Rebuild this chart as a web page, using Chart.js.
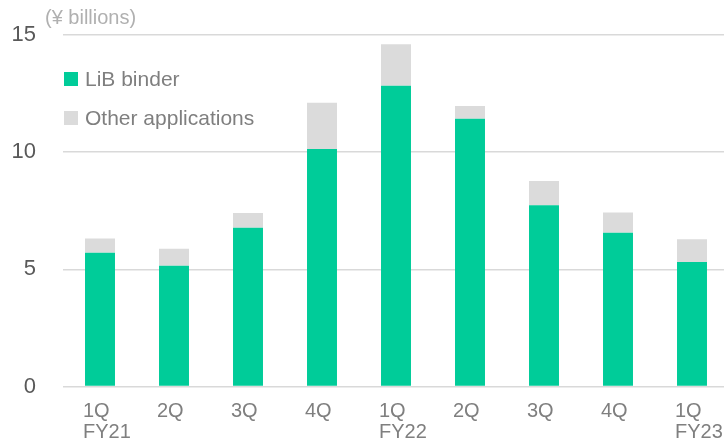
<!DOCTYPE html>
<html>
<head>
<meta charset="utf-8">
<script src="https://cdn.jsdelivr.net/npm/chart.js@4/dist/chart.umd.min.js"></script>
<style>
  html, body { margin: 0; padding: 0; background: #fff; overflow: hidden; }
  #wrap { width: 729px; height: 444px; position: relative; }
</style>
</head>
<body>
<div id="wrap"><canvas id="c"></canvas></div>
<script>
const categories = [["1Q","FY21"],["2Q"],["3Q"],["4Q"],["1Q","FY22"],["2Q"],["3Q"],["4Q"],["1Q","FY23"]];
const libBinder = [5.71, 5.15, 6.77, 10.13, 12.83, 11.43, 7.74, 6.56, 5.31];
const otherApps = [0.61, 0.73, 0.63, 1.98, 1.77, 0.54, 1.03, 0.87, 0.97];
const seriesNames = ["LiB binder", "Other applications"];
const yTicks = [0, 5, 10, 15];
const unitLabel = "(¥ billions)";

const FONT = "'Liberation Sans', Arial, sans-serif";
const GREEN = "#00CC99";
const GREY = "#DBDBDB";

const overlay = {
  id: 'overlay',
  afterDraw(chart) {
    const ctx = chart.ctx;
    ctx.save();
    ctx.font = "20px " + FONT;
    ctx.fillStyle = "#B0B0B0";
    ctx.textBaseline = "middle";
    ctx.textAlign = "left";
    ctx.fillText(unitLabel, 45, 18);
    const items = chart.data.datasets;
    const ys = [79, 118];
    items.forEach((ds, i) => {
      ctx.fillStyle = ds.backgroundColor;
      ctx.fillRect(64, ys[i] - 7, 14, 14);
      ctx.fillStyle = "#7F7F7F";
      ctx.font = "21px " + FONT;
      ctx.fillText(ds.label, 85, ys[i] + 1);
    });
    ctx.restore();
  }
};

new Chart(document.getElementById('c'), {
  type: 'bar',
  data: {
    labels: categories,
    datasets: [
      { label: seriesNames[0], data: libBinder, backgroundColor: GREEN },
      { label: seriesNames[1], data: otherApps, backgroundColor: GREY }
    ]
  },
  options: {
    responsive: true,
    maintainAspectRatio: false,
    animation: false,
    devicePixelRatio: 1,
    layout: { padding: { top: 35, bottom: 0, left: 0, right: 0 } },
    plugins: { legend: { display: false }, tooltip: { enabled: false } },
    datasets: { bar: { categoryPercentage: 1, barPercentage: 0.405 } },
    scales: {
      x: {
        stacked: true,
        grid: { display: false, drawTicks: false },
        border: { display: false },
        ticks: {
          color: "#7F7F7F",
          font: { family: FONT, size: 20, lineHeight: 1.05 },
          padding: 14,
          align: 'start',
          labelOffset: -17,
          maxRotation: 0,
          autoSkip: false
        },
        afterFit(s) { s.height = 57.5; s.paddingLeft = 0; s.paddingRight = 0; }
      },
      y: {
        stacked: true,
        min: 0, max: 15,
        afterBuildTicks(s) { s.ticks = yTicks.map(v => ({ value: v })); },
        grid: { color: "#D9D9D9", lineWidth: 1.5, drawTicks: false },
        border: { display: false },
        ticks: {
          color: "#595959",
          font: { family: FONT, size: 22 },
          padding: 27
        },
        afterFit(s) { s.width = 63; s.paddingTop = 0; s.paddingBottom = 0; }
      }
    }
  },
  plugins: [overlay]
});
</script>
</body>
</html>
